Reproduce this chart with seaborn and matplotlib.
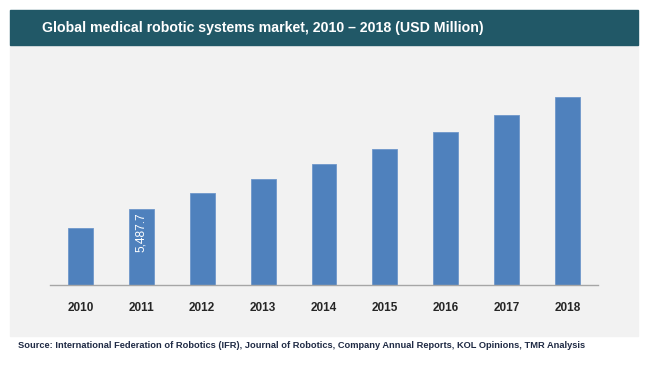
import pandas as pd
import numpy as np
import matplotlib.pyplot as plt
import seaborn as sns
from matplotlib.patches import Rectangle

# data (only 2011 is labelled)
years = ["2010", "2011", "2012", "2013", "2014", "2015", "2016", "2017", "2018"]
market = [4094, 5487.7, 6665, 7654, 8759, 9821, 11027, 12254, 13597]

df = pd.DataFrame({"year": years, "market": market})

sns.set_style("white")
plt.rcParams["font.family"] = ["Liberation Sans", "DejaVu Sans"]

fig = plt.figure(figsize=(6.5, 3.69), dpi=100)
W, H = 650, 369

# grey panel and title band (behind the axes)
fig.patches.append(Rectangle((10 / W, 1 - 336 / H), 628 / W, 290 / H,
                             transform=fig.transFigure, color="#F2F2F2", zorder=-2))
fig.patches.append(Rectangle((10 / W, 1 - 45 / H), 628 / W, 35 / H,
                             transform=fig.transFigure, color="#215867", zorder=-2))
fig.text(42 / W, 1 - 28 / H, "Global medical robotic systems market, 2010 – 2018 (USD Million)",
         color="white", fontsize=10.2, fontweight="bold", va="center", ha="left")

ax = fig.add_axes([50 / W, 84 / H, 548 / W, 225 / H])
ax.set_facecolor("none")
ax.set_zorder(1)

sns.barplot(data=df, x="year", y="market", color="#4F81BD", width=0.41,
            saturation=1, edgecolor="#6E97CB", linewidth=0.6, ax=ax)

ax.set_ylim(0, 16250)
ax.set_xlim(-0.5, len(years) - 0.5)
ax.set_xlabel("")
ax.set_ylabel("")
ax.set_yticks([])
for s in ["top", "right", "left"]:
    ax.spines[s].set_visible(False)
ax.spines["bottom"].set_color("#A6A6A6")
ax.spines["bottom"].set_linewidth(1)

# ticks between categories
ax.set_xticks(np.arange(-0.5, len(years), 1), minor=True)
ax.tick_params(axis="x", which="minor", length=4, color="#A6A6A6", width=1, direction="out")
ax.tick_params(axis="x", which="major", length=0, pad=12, labelsize=8.5, labelcolor="#262626")
for lbl in ax.get_xticklabels():
    lbl.set_fontweight("bold")

# value label on 2011 bar
ax.text(1, market[1] - 250, "5,487.7", rotation=90, ha="center", va="top",
        color="white", fontsize=8.6)

fig.text(18 / W, 1 - 346 / H,
         "Source: International Federation of Robotics (IFR), Journal of Robotics, Company Annual Reports, KOL Opinions, TMR Analysis",
         color="#1F2A44", fontsize=6.65, fontweight="bold", va="center", ha="left")

fig.savefig("out.png", dpi=100, facecolor="white")
